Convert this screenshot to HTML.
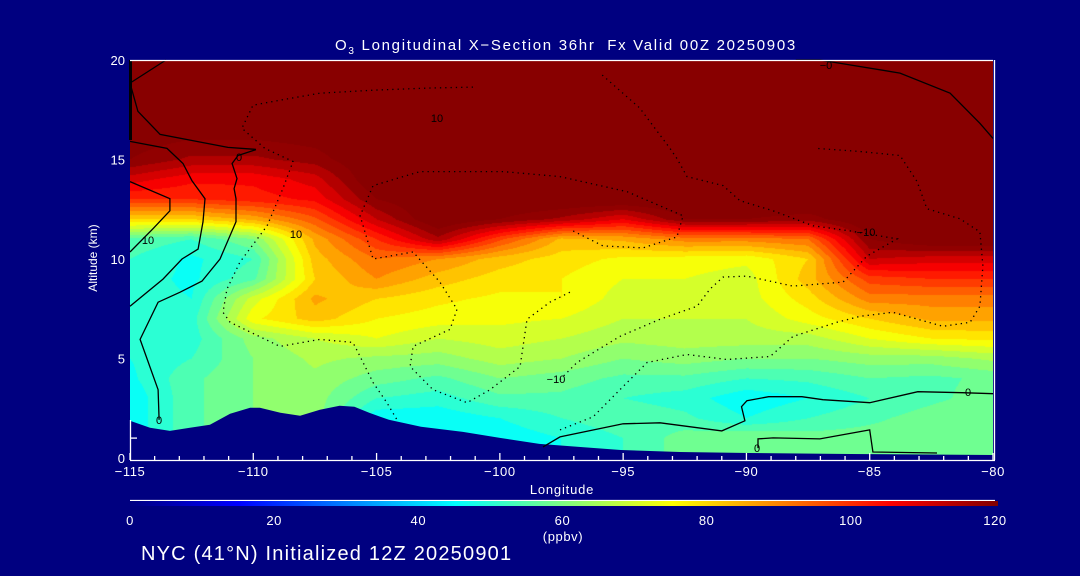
<!DOCTYPE html>
<html><head><meta charset="utf-8"><style>
html,body{margin:0;padding:0;background:#000080;width:1080px;height:576px;overflow:hidden}
#wrap{position:relative;width:1080px;height:576px;font-family:"Liberation Sans",sans-serif;color:#fff}
canvas{position:absolute;left:130px;top:60px}
svg{position:absolute;left:0;top:0}
</style></head><body>
<div id="wrap">
<canvas id="field" width="863" height="398"></canvas>
<svg id="ov" width="1080" height="576"></svg>
</div>
<script>
const lons=[-115,-112.5,-110,-107.5,-105,-102.5,-100,-97.5,-95,-92.5,-90,-87.5,-85,-82.5,-80];
const alts=[0,1,2,3,4,5,6,7,8,9,10,11,12,13,14,15,17,20];
const col0=[45,45,45,45,47,48,48,50,50,50,52,55,80,100,110,120,125,130];
const col1=[55,55,55,55,55,52,50,50,48,47,47,52,80,100,105,115,125,130];
const col2=[60,60,60,60,60,60,62,75,70,55,52,60,85,102,105,115,125,130];
const col3=[62,62,62,62,63,65,68,82,85,80,82,85,95,105,110,118,125,130];
const col4=[45,45,45,52,58,63,72,76,80,88,92,100,112,120,125,125,125,130];
const col5=[45,45,45,50,55,62,68,74,77,82,88,115,125,125,125,125,125,130];
const col6=[45,45,48,55,60,66,70,73,75,78,82,97,120,125,125,125,125,130];
const col7=[48,48,52,55,58,64,68,72,76,76,78,83,115,125,125,125,125,130];
const col8=[52,52,55,52,55,60,65,68,70,72,75,85,108,125,125,125,125,130];
const col9=[58,58,53,50,55,62,66,68,70,72,74,90,120,125,125,125,125,130];
const col10=[60,60,48,45,52,60,66,68,70,70,73,90,120,125,125,125,125,130];
const col11=[58,58,52,48,53,60,66,74,78,82,80,92,118,125,125,125,125,130];
const col12=[58,58,55,52,56,62,72,80,90,98,112,120,125,125,125,125,125,130];
const col13=[58,58,58,55,55,62,76,85,90,100,110,125,125,125,125,125,125,130];
const col14=[60,60,60,58,57,65,77,85,90,100,110,125,125,125,125,125,125,130];
const cols=[col0,col1,col2,col3,col4,col5,col6,col7,col8,col9,col10,col11,col12,col13,col14];
const terrLon=[-115,-114.19,-113.38,-112.57,-111.76,-110.94,-110.13,-109.73,-108.9,-108.1,-107.3,-106.5,-105.9,-105.3,-104.5,-103.2,-101.5,-100,-98.4,-96.8,-95.1,-92.7,-89.9,-85.8,-80];
const terrAlt=[1.87,1.52,1.36,1.52,1.67,2.22,2.53,2.53,2.27,2.12,2.42,2.63,2.58,2.27,1.92,1.57,1.31,1.01,0.71,0.56,0.40,0.30,0.25,0.2,0.15];
const xTicks=[-115,-110,-105,-100,-95,-90,-85,-80];
const xTickLabels=["\u2212115","\u2212110","\u2212105","\u2212100","\u221295","\u221290","\u221285","\u221280"];
const yTicks=[0,5,10,15,20];
const cbTicks=[0,20,40,60,80,100,120];
const cBLon=[-98.25,-97.56,-95.0,-93.5,-91.0,-90.06,-90.2,-89.98,-89.1,-87.75,-86.9,-85.0,-83.05,-81.25,-80];
const cBAlt=[0.56,1.06,1.72,1.77,1.36,1.87,2.58,2.88,3.08,3.08,2.93,2.78,3.33,3.28,3.23];
const cCLon=[-89.53,-89.53,-88.92,-87.02,-85,-84.87,-82.27];
const cCAlt=[0.5,0.96,1.01,0.96,1.41,0.3,0.25];
const cDLon=[-109.89,-110.62,-110.86,-110.66,-110.78,-110.7,-110.7,-111.35,-112.08,-112.97,-113.86,-114.59,-113.86,-113.82];
const cDAlt=[15.5,15.2,14.8,14.04,13.54,13.03,11.87,10,8.89,8.33,7.83,5.96,3.43,1.92];
const cELon=[-115,-113.5,-112.85,-112.49,-111.96,-112.04,-112.24,-112.89,-113.66,-115];
const cEAlt=[15.91,15.56,14.8,13.94,13.03,11.87,10.5,10,8.99,7.63];
const cFLon=[-115,-113.38,-113.38,-114.07,-115];
const cFAlt=[13.89,13.03,12.42,11.52,10.35];
const cGLon=[-113.54,-115,-115,-114.68,-113.78,-111.03,-109.89];
const cGAlt=[20,18.84,18.84,17.42,16.26,15.61,15.51];
const cHLon=[-88,-87.02,-83.77,-81.74,-80.53,-80];
const cHAlt=[20,20,19.34,18.33,16.82,16.06];
const dALon=[-97.56,-96.87,-95.13,-93.51,-92.0,-91.48,-90.95,-89.98,-88.11,-86.08,-85.11,-83.89,-85.8,-87.3,-88.92,-90.26,-90.95,-92.41,-92.82,-93.1,-94.32,-95.94];
const dAAlt=[3.94,4.80,6.11,6.97,7.63,8.48,9.09,9.14,8.64,8.84,10.15,11.01,11.41,11.67,12.42,12.93,13.69,14.14,15.05,15.56,17.58,19.34];
const dBLon=[-97.56,-96.22,-95.13,-94.03,-92.41,-90.79,-89.04,-88.11,-86.33,-85.39,-84.06,-82.03,-80.93,-80.53,-80.41,-80.53,-81.34,-82.68,-83.08,-83.77,-85.39,-87.14];
const dBAlt=[1.41,2.07,3.43,4.80,5.20,4.95,5.10,6.11,6.82,7.12,7.32,6.62,6.82,7.63,9.65,11.36,12.02,12.53,13.89,15.2,15.4,15.56];
const dCLon=[-101.09,-102.95,-105.14,-107.3,-108.92,-110.01,-110.46,-109.53,-108.39,-108.8,-109.44,-110.54,-111.07,-111.23,-110.94,-108.92,-107.3,-105.96,-105.67,-105.14,-104.58,-104.17];
const dCAlt=[18.64,18.59,18.48,18.33,17.98,17.73,16.57,15.56,14.9,13.54,11.67,9.85,8.48,7.32,6.82,5.61,5.96,5.81,5.10,3.79,2.78,1.92];
const dDLon=[-97.16,-97.97,-98.9,-99.18,-100.4,-101.33,-102.71,-103.64,-103.52,-102.02,-101.74,-102.43,-103.52,-105.14,-105.67,-105.14,-103.24,-99.87,-97.56,-94.84,-92.57,-92.82,-94.19,-95.82,-97.03];
const dDAlt=[8.33,7.83,6.97,4.6,3.43,2.78,3.43,4.6,5.61,6.46,7.47,8.84,10.35,10,12.17,13.69,14.39,14.39,14.14,13.38,12.17,11.11,10.56,10.66,11.41];

const X0=130,X1=993,Y0=458,YT=60;
function xs(lon){return X0+(lon+115)*(X1-X0)/35;}
function ys(a){return Y0-a*(Y0-YT)/20;}
function jet(v){const t=Math.max(0,Math.min(1,v/120));const c=x=>Math.round(255*Math.max(0,Math.min(1,x)));
return [c(1.5-Math.abs(4*t-3)),c(1.5-Math.abs(4*t-2)),c(1.5-Math.abs(4*t-1))];}
function interp(lon,a){
  let i=0;while(i<lons.length-2&&lon>lons[i+1])i++;
  let j=0;while(j<alts.length-2&&a>alts[j+1])j++;
  const fx=Math.max(0,Math.min(1,(lon-lons[i])/(lons[i+1]-lons[i])));
  const fy=Math.max(0,Math.min(1,(a-alts[j])/(alts[j+1]-alts[j])));
  const v00=cols[i][j],v10=cols[i+1][j],v01=cols[i][j+1],v11=cols[i+1][j+1];
  return (v00*(1-fx)+v10*fx)*(1-fy)+(v01*(1-fx)+v11*fx)*fy;
}
const cv=document.getElementById('field');const ctx=cv.getContext('2d');
const W=cv.width,H=cv.height;const img=ctx.createImageData(W,H);
for(let py=0;py<H;py++){const a=(Y0-(py+YT+0.5))/((Y0-YT)/20);
 for(let px=0;px<W;px++){const lon=(px+0.5)*35/(X1-X0)-115;
  let v=interp(lon,a);
  let c;
  if(v>=120){c=[136,0,0];}else{v=Math.floor(v/4)*4+2;c=jet(v);}
  const k=(py*W+px)*4;img.data[k]=c[0];img.data[k+1]=c[1];img.data[k+2]=c[2];img.data[k+3]=255;}}
ctx.putImageData(img,0,0);

const NS='http://www.w3.org/2000/svg';const svg=document.getElementById('ov');
function mk(tag,attrs,parent){const e=document.createElementNS(NS,tag);for(const k in attrs)e.setAttribute(k,attrs[k]);(parent||svg).appendChild(e);return e;}
let tp='M'+xs(-115)+','+ys(0);
for(let i=0;i<terrLon.length;i++)tp+=' L'+xs(terrLon[i]).toFixed(1)+','+ys(terrAlt[i]).toFixed(1);
tp+=' L'+xs(-80)+','+ys(0)+' Z';
const terr=mk('path',{d:tp,fill:'#000080'});


function line(lo,al,dotted,name){let d='';for(let i=0;i<lo.length;i++)d+=(i?' L':'M')+xs(lo[i]).toFixed(1)+','+ys(al[i]).toFixed(1);
 const p=mk('path',{d:d,fill:'none',stroke:'#000','stroke-width':1.3,'stroke-dasharray':dotted?'1.3 4':'none'});
 
 }
line(cBLon,cBAlt,false,'contour-0-east');line(cCLon,cCAlt,false,'contour-0-surface');
line(cDLon,cDAlt,false,'contour-0-west');line(cELon,cEAlt,false,'contour-0-west-2');
line(cFLon,cFAlt,false,'contour-10-west');line(cGLon,cGAlt,false,'contour-0-top-west');
line(cHLon,cHAlt,false,'contour-0-top-east');
line(dALon,dAAlt,true,'contour-neg10-a');line(dBLon,dBAlt,true,'contour-neg10-b');
line(dCLon,dCAlt,true,'contour-neg10-c');line(dDLon,dDAlt,true,'contour-neg10-d');
const le=mk('line',{x1:130.5,y1:60,x2:130.5,y2:140,stroke:'#000','stroke-width':3});


const clab=[["0",968,396],["0",757,452],["0",239,161],["0",159,424],["\u22120",826,69],["\u221210",866,236],["\u221210",556,383],["10",148,244],["10",296,238],["10",437,122]];
clab.forEach(c=>{const t=mk('text',{x:c[1],y:c[2],fill:'#000','font-size':11,'text-anchor':'middle'});t.textContent=c[0];
 
 });
const ax=mk('g',{stroke:'#fff','stroke-width':1.3,fill:'none'});


mk('line',{x1:130,y1:60.5,x2:993,y2:60.5},ax);
mk('line',{x1:130,y1:460.5,x2:995,y2:460.5},ax);
mk('line',{x1:994.5,y1:60,x2:994.5,y2:460},ax);
mk('line',{x1:130.5,y1:420,x2:130.5,y2:460},ax);
for(let l=-115;l<=-80;l++){const x=xs(l);mk('line',{x1:x,y1:460,x2:x,y2:l%5===0?453:456},ax);}
mk('line',{x1:130,y1:ys(1),x2:137,y2:ys(1)},ax);
xTicks.forEach((l,i)=>{const t=mk('text',{x:xs(l),y:476,fill:'#fff','font-size':13,'text-anchor':'middle','letter-spacing':0.6});t.textContent=xTickLabels[i];
 
 });
yTicks.forEach(a=>{const t=mk('text',{x:125,y:ys(a)+5,fill:'#fff','font-size':13,'text-anchor':'end'});t.textContent=String(a);
 
 });
function txt(s,x,y,size,name,anchor,extra){const t=mk('text',Object.assign({x:x,y:y,fill:'#fff','font-size':size,'text-anchor':anchor||'middle'},extra||{}));t.textContent=s;
 
 return t;}
const ti=txt('',566,50,15,'chart-title','middle',{'letter-spacing':1.7});
ti.innerHTML='O<tspan font-size="10" dy="4">3</tspan><tspan dy="-4"> Longitudinal X\u2212Section 36hr\u00a0\u00a0Fx Valid 00Z 20250903</tspan>';
txt('Longitude',562,494,13,'x-axis-title','middle',{'letter-spacing':0.8});
txt('Altitude (km)',97,258,12,'y-axis-title','middle',{transform:'rotate(-90 97 258)'});
const defs=mk('defs',{});const g=mk('linearGradient',{id:'jet',x1:0,x2:1,y1:0,y2:0},defs);
for(let v=0;v<=120;v+=5){const c=jet(v);mk('stop',{offset:(v/120),'stop-color':'rgb('+c.join(',')+')'},g);}
mk('line',{x1:130,y1:500.5,x2:995,y2:500.5,stroke:'#fff','stroke-width':1.3});
const cb=mk('rect',{x:130,y:501,width:868,height:5,fill:'url(#jet)'});


cbTicks.forEach(v=>{txt(String(v),130+v/120*865,525,13,'colorbar-label','middle',{'letter-spacing':0.6});});
txt('(ppbv)',563,541,13,'colorbar-unit','middle',{'letter-spacing':0.6});
txt('NYC (41\u00b0N) Initialized 12Z 20250901',141,560,20,'footer-caption','start',{'letter-spacing':1.2});
</script>
</body></html>
